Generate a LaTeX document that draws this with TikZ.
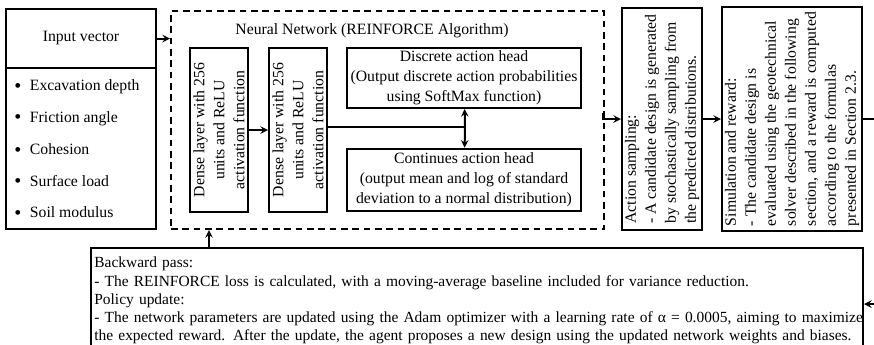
\documentclass[tikz,border=0pt]{standalone}
\usepackage{fontspec}
\setmainfont{Liberation Serif}
\usetikzlibrary{calc}

\begin{document}
\begin{tikzpicture}[x=0.75pt, y=-0.75pt,
    font=\fontsize{11.8}{15}\selectfont,
    box/.style={draw, line width=1.5pt, inner sep=2pt},
    nnbox/.style={draw, line width=1.5pt, dash pattern=on 5pt off 3.5pt},
    link/.style={line width=1.5pt},
    >=stealth]
    \useasboundingbox (0,0) rectangle (874,344);
    % input vector
    \node[box, anchor=north west, minimum width=112.5pt, minimum height=44.25pt] (input) at (5,8) {Input vector};
    \node[box, anchor=north west, minimum width=112.5pt, minimum height=120.75pt] (params) at (5,67) {};
    \foreach \name [count=\i] in {Excavation depth, Friction angle, Cohesion, Surface load, Soil modulus} {
      \node[anchor=west, inner sep=0pt] (item\i) at (14,55.5+31.5*\i)
        {\raisebox{-1.2pt}{\fontsize{15}{15}\selectfont\textbullet}\hspace{0.55em}\name};
    }
    % neural network
    \node[nnbox, anchor=north west, minimum width=324.75pt, minimum height=163.5pt] (nn) at (170,10) {};
    \node (title) at (372,31) {Neural Network (REINFORCE Algorithm)};
    \node[box, rotate=90, align=center, minimum width=123pt, minimum height=43.5pt] (dense1) at (219,130)
      {Dense layer with 256\\units and ReLU\\activation function};
    \node[box, rotate=90, align=center, minimum width=123pt, minimum height=43.5pt] (dense2) at (298,130)
      {Dense layer with 256\\units and ReLU\\activation function};
    \node[box, align=center, minimum width=175pt, minimum height=45pt] (disc) at (464,78)
      {Discrete action head\\(Output discrete action probabilities\\using SoftMax function)};
    \node[box, align=center, minimum width=175pt, minimum height=47pt] (cont) at (464,180)
      {Continues action head\\(output mean and log of standard\\deviation to a normal distribution)};
    \coordinate (split) at (465,127);
    \draw[->, link] (dense1) -- (dense2);
    \draw[link] (dense2.south |- split) -- (split);
    \draw[->, link] (split) -- (disc);
    \draw[->, link] (split) -- (cont);
    \draw[->, link] (input) -- (input -| nn.west);
    % sampling and simulation
    \node[box, rotate=90, align=left, minimum width=166.5pt, minimum height=60pt, inner sep=1pt] (act) at (662,119)
      {Action sampling:\\- A candidate design is generated\\by stochastically sampling from\\the predicted distributions.};
    \node[box, rotate=90, align=left, minimum width=168pt, minimum height=105pt, inner sep=1pt] (sim) at (792,119)
      {Simulation and reward:\\- The candidate design is\\evaluated using the geotechnical\\solver described in the following\\section, and a reward is computed\\according to the formulas\\presented in Section 2.3.};
    \coordinate (nnout) at (603,113);
    \draw[->, link] (nnout) |- (act);
    \draw[->, link] (act) -- (sim);
    % backward pass
    \node[box, anchor=north west, align=left, text width=574pt, minimum height=79pt, inner sep=2.5pt,
      font=\fontsize{11.6}{13.7}\selectfont] (back) at (90,247)
      {Backward pass:\\\mbox{- The REINFORCE loss is calculated, with a moving-average baseline included for variance reduction.}\\Policy update:\\\mbox{- The network parameters are updated using the Adam optimizer with a learning rate of α = 0.0005, aiming to maximize}\\\mbox{the expected reward. After the update, the agent proposes a new design using the updated network weights and biases.}};
    \coordinate (loop1) at (885,119);
    \coordinate (loop2) at (885,304);
    \coordinate (up) at (209,0);
    \draw[->, link] (sim) -- (loop1) -- (loop2) -- (back.east |- loop2);
    \draw[->, link] (back.north -| up) -- (nn.south -| up);
\end{tikzpicture}
\end{document}
